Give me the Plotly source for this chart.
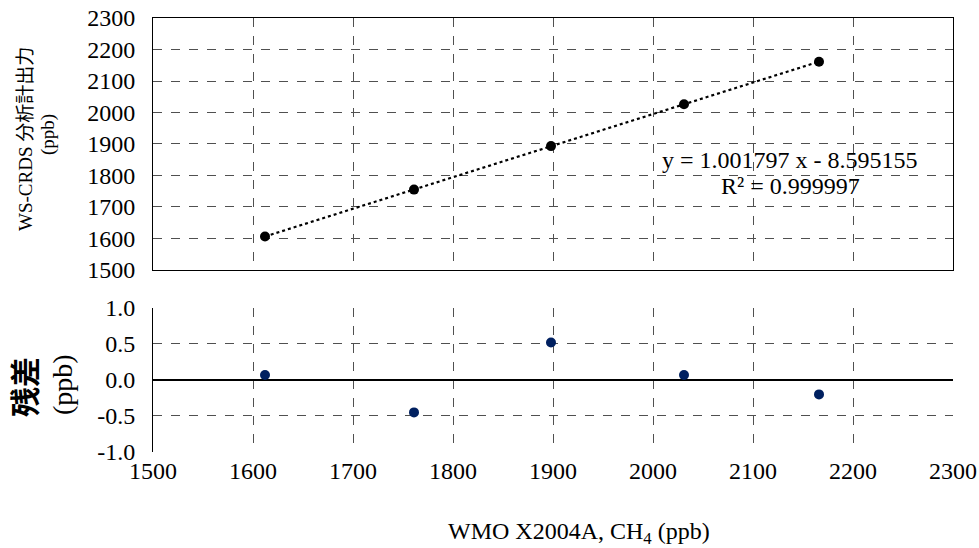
import plotly.graph_objects as go

# Data
wmo_x = [1612, 1761, 1898, 2031, 2166]
crds_y = [1606.37, 1755.12, 1893.34, 2026.12, 2161.10]
residuals = [0.07, -0.45, 0.52, 0.07, -0.20]
slope = 1.001797
intercept = -8.595155
x_ticks = [1500, 1600, 1700, 1800, 1900, 2000, 2100, 2200, 2300]
top_ticks = [1500, 1600, 1700, 1800, 1900, 2000, 2100, 2200, 2300]
res_ticks = [-1.0, -0.5, 0.0, 0.5, 1.0]
res_tick_text = ["-1.0", "-0.5", "0.0", "0.5", "1.0"]

fit_y = [slope * v + intercept for v in wmo_x]

FONT = "Liberation Serif, Times New Roman, Noto Sans CJK JP, serif"
TICKSIZE = 24

fig = go.Figure()
fig.add_trace(go.Scatter(x=wmo_x, y=fit_y, mode="lines",
                         line=dict(color="black", width=2.2, dash="dot"),
                         xaxis="x", yaxis="y", showlegend=False, hoverinfo="skip"))
fig.add_trace(go.Scatter(x=wmo_x, y=crds_y, mode="markers",
                         marker=dict(color="black", size=10),
                         xaxis="x", yaxis="y", showlegend=False))
fig.add_trace(go.Scatter(x=wmo_x, y=residuals, mode="markers",
                         marker=dict(color="#002060", size=10),
                         xaxis="x2", yaxis="y2", showlegend=False))

grid = dict(showgrid=True, gridcolor="#505050", griddash="dash", gridwidth=1,
            automargin=False, ticklabeloverflow="allow")

fig.update_layout(
    width=979, height=548,
    margin=dict(l=153, r=26, t=18, b=96),
    paper_bgcolor="white", plot_bgcolor="white",
    font=dict(family=FONT, color="black", size=20),
    xaxis=dict(domain=[0, 1], range=[1500, 2300], tickvals=x_ticks,
               showticklabels=False, anchor="y", zeroline=False,
               showline=True, linecolor="black", linewidth=1, mirror=True, **grid),
    yaxis=dict(domain=[0.4194, 1], range=[1500, 2300], tickvals=top_ticks,
               anchor="x", zeroline=False, ticks="", ticklabelstandoff=12,
               showline=True, linecolor="black", linewidth=1, mirror=True,
               tickfont=dict(size=TICKSIZE, family=FONT), **grid),
    xaxis2=dict(domain=[0, 1], range=[1500, 2300], tickvals=x_ticks,
                anchor="y2", zeroline=False, ticks="", ticklabelstandoff=2,
                showline=False, tickfont=dict(size=TICKSIZE, family=FONT), **grid),
    yaxis2=dict(domain=[0, 0.3318], range=[-1.0, 1.0], tickvals=res_ticks,
                ticktext=res_tick_text, anchor="x2", zeroline=True, zerolinecolor="black",
                zerolinewidth=1.5, ticks="", ticklabelstandoff=12,
                showline=True, linecolor="black", linewidth=1,
                tickfont=dict(size=TICKSIZE, family=FONT), **grid),
)

def px(x):
    return (x - 153) / 800

def py(y):
    return (452 - y) / 434

# Axis titles
fig.add_annotation(xref="paper", yref="paper", x=px(579), y=py(533),
                   xanchor="center", yanchor="middle", showarrow=False,
                   text="WMO X2004A, CH<sub>4</sub> (ppb)",
                   font=dict(size=24, family=FONT))
fig.add_annotation(xref="paper", yref="paper", x=px(25), y=py(139),
                   xanchor="center", yanchor="middle", showarrow=False, textangle=-90,
                   text="WS-CRDS 分析計出力", font=dict(size=19, family=FONT))
fig.add_annotation(xref="paper", yref="paper", x=px(48), y=py(135),
                   xanchor="center", yanchor="middle", showarrow=False, textangle=-90,
                   text="(ppb)", font=dict(size=19, family=FONT))
fig.add_annotation(xref="paper", yref="paper", x=px(25), y=py(387),
                   xanchor="center", yanchor="middle", showarrow=False, textangle=-90,
                   text="<b>残差</b>", font=dict(size=30, family=FONT))
fig.add_annotation(xref="paper", yref="paper", x=px(62), y=py(385),
                   xanchor="center", yanchor="middle", showarrow=False, textangle=-90,
                   text="(ppb)", font=dict(size=28, family=FONT))

# Regression equation
fig.add_annotation(xref="paper", yref="paper", x=px(790), y=py(160),
                   xanchor="center", yanchor="middle", showarrow=False,
                   text="y = 1.001797 x - 8.595155",
                   font=dict(size=24, family=FONT, color="black"))
fig.add_annotation(xref="paper", yref="paper", x=px(790), y=py(186),
                   xanchor="center", yanchor="middle", showarrow=False,
                   text="R² = 0.999997",
                   font=dict(size=24, family=FONT, color="black"))

# remove the default 8px page margin so the 979x548 figure fills the window exactly
fig.write_html("out.html", config={"displayModeBar": False},
               post_script="document.body.style.margin='0';document.body.style.overflow='hidden';")
